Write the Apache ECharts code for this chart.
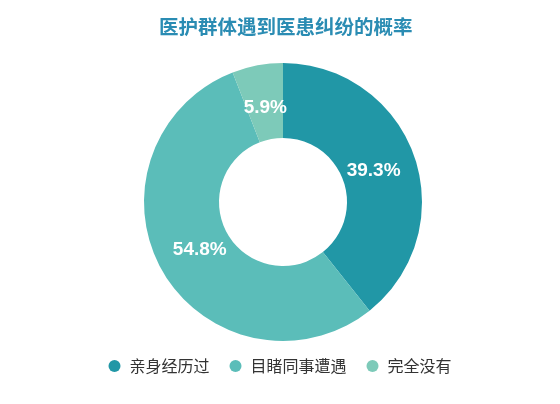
<!DOCTYPE html>
<html><head><meta charset="utf-8">
<script src="https://cdn.jsdelivr.net/npm/echarts@6/dist/echarts.min.js"></script>
<style>html,body{margin:0;padding:0;background:#fff}#c{width:560px;height:404px}</style>
</head><body><div id="c"></div>
<script>
var categories = ['亲身经历过', '目睹同事遭遇', '完全没有'];
var values = [39.3, 54.8, 5.9];
var colors = ['#2197a6', '#5bbdb9', '#7dcab9'];
var pieData = categories.map(function (c, i) { return { name: c, value: values[i] }; });
var chart = echarts.init(document.getElementById('c'));
chart.setOption({
  backgroundColor: '#fff',
  title: {
    text: '医护群体遇到医患纠纷的概率',
    left: 154, top: 12,
    textStyle: { color: '#2a8cb3', fontSize: 19.5, fontWeight: 'bold', fontFamily: 'Noto Sans CJK SC' }
  },
  legend: {
    bottom: 25, left: 'center',
    icon: 'circle', itemWidth: 12, itemHeight: 12, itemGap: 20,
    textStyle: { color: '#333', fontSize: 16, fontFamily: 'Noto Sans CJK SC', padding: [0, 0, 0, 4] },
    data: categories
  },
  color: colors,
  series: [{
    type: 'pie',
    center: [283, 202],
    radius: [64, 139],
    startAngle: 90,
    clockwise: true,
    label: { show: false },
    labelLine: { show: false },
    emphasis: { disabled: true },
    data: pieData
  }, {
    type: 'pie',
    center: [283, 202],
    radius: [47, 139],
    startAngle: 90,
    clockwise: true,
    silent: true,
    itemStyle: { color: 'rgba(0,0,0,0)' },
    label: {
      show: true, position: 'inside', color: '#fff', fontSize: 19, fontWeight: 'bold',
      fontFamily: 'Liberation Sans',
      formatter: function (p) { return p.value.toFixed(1) + '%'; }
    },
    labelLine: { show: false },
    emphasis: { disabled: true },
    data: pieData
  }]
});
</script></body></html>
